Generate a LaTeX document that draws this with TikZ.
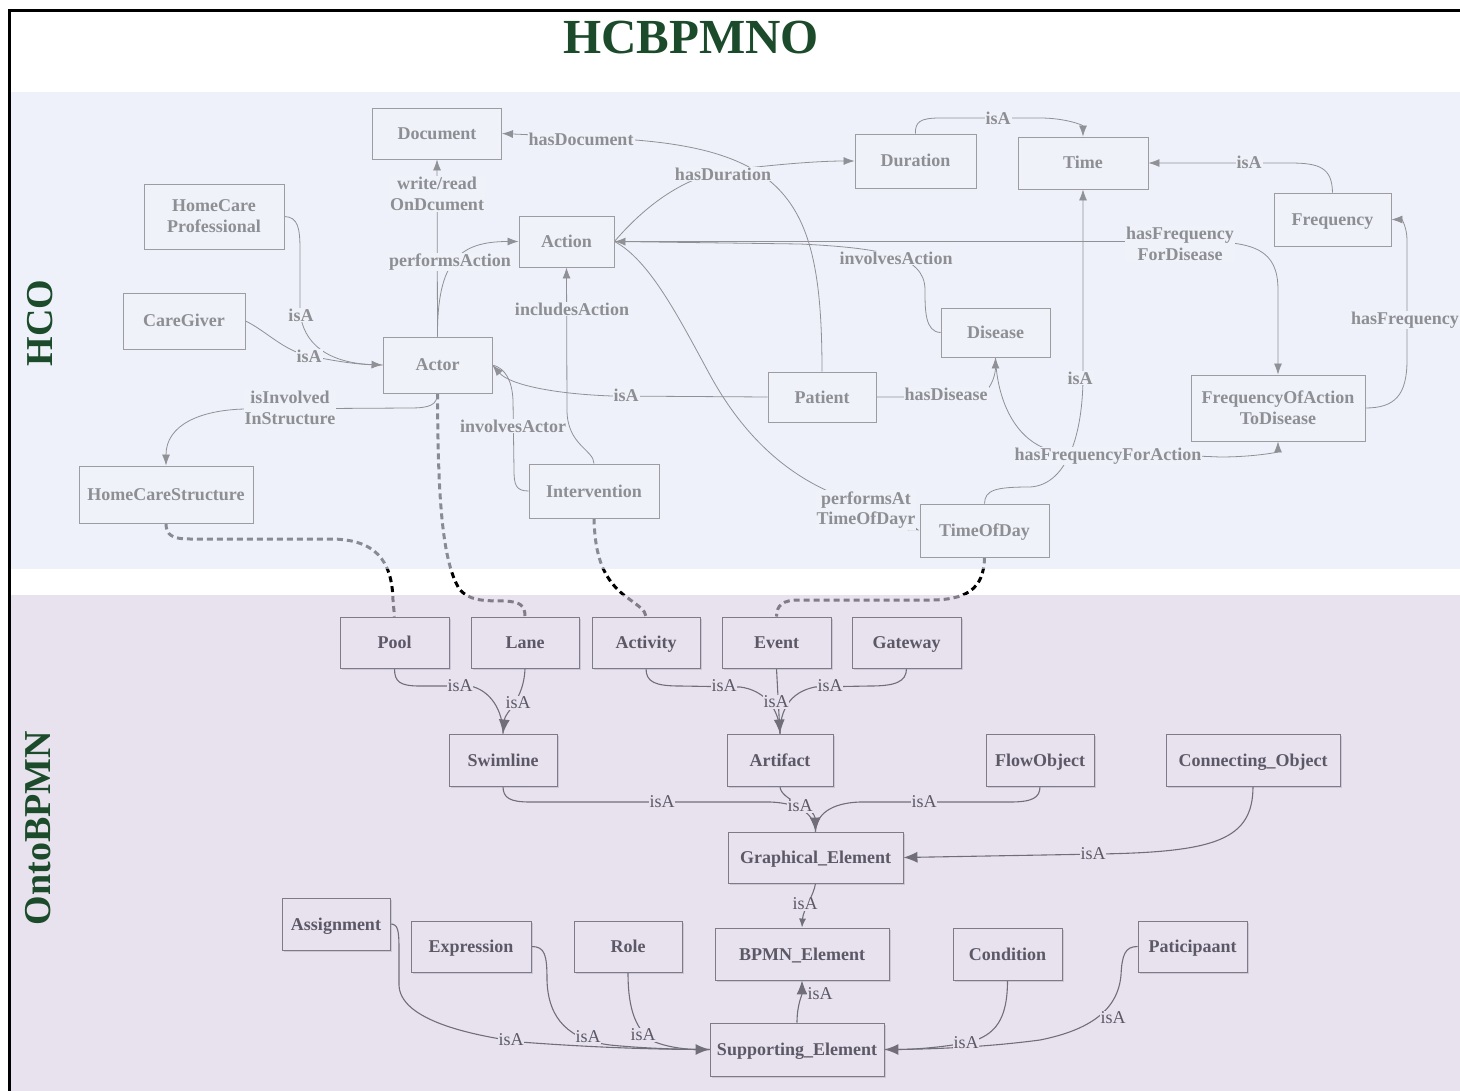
\documentclass[tikz,border=0pt]{standalone}
\usepackage{fontspec}
\setmainfont{Liberation Serif}
\usetikzlibrary{arrows.meta,shadows}
\definecolor{hcoband}{HTML}{E4E9F5}
\definecolor{hcovis}{HTML}{EFF2F9}
\definecolor{bpmband}{HTML}{D7CFE3}
\definecolor{bpmvis}{HTML}{E7E2EE}
\definecolor{hcotext}{HTML}{8E8F94}
\definecolor{hcoline}{HTML}{909196}
\definecolor{hcobox}{HTML}{9C9CA1}
\definecolor{bptext}{HTML}{5C5866}
\definecolor{bpline}{HTML}{716E7A}
\definecolor{bpbox}{HTML}{7E7A87}
\definecolor{titlegreen}{HTML}{1B4B2A}
\pgfdeclarelayer{dashl}\pgfdeclarelayer{bandl}\pgfdeclarelayer{edgel}
\pgfsetlayers{dashl,bandl,edgel,main}
\tikzset{
  hbox/.style={draw=hcobox, line width=0.9pt, fill=hcovis, text=hcotext, inner sep=0pt, align=center,
    font=\bfseries\fontsize{18}{21}\selectfont},
  bbox/.style={draw=bpbox, line width=0.9pt, fill=bpmvis, text=bptext, inner sep=0pt, align=center,
    font=\bfseries\fontsize{18}{21}\selectfont,
    drop shadow={shadow xshift=1.5pt, shadow yshift=-1.5pt, opacity=0.25, fill=bpbox}},
  one/.style={text height=13pt, text depth=1pt},
  hlbl/.style={fill=hcovis, text=hcotext, inner sep=1pt, align=center, font=\bfseries\fontsize{18}{20.5}\selectfont},
  blbl/.style={fill=bpmvis, text=bptext, inner sep=0.5pt, font=\fontsize{18}{20}\selectfont},
  hedge/.style={draw=hcoline, line width=0.8pt},
  harr/.style={hedge, -{Latex[length=11pt,width=8pt]}},
  bedge/.style={draw=bpline, line width=1.1pt},
  barr/.style={bedge, -{Latex[length=14pt,width=11pt]}},
  bsarr/.style={bedge, -{Latex[length=9pt,width=7pt]}},
  dashc/.style={draw=black, line width=3pt, dash pattern=on 6pt off 4pt},
  sz/.style n args={2}{minimum width=#1pt, minimum height=#2pt}
}
\begin{document}
\begin{tikzpicture}[x=1pt,y=-1pt]
\useasboundingbox (0,0) rectangle (1460,1091);
\begin{pgfonlayer}{dashl}
\fill[white] (0,0) rectangle (1460,1091);
\end{pgfonlayer}
\begin{pgfonlayer}{bandl}
\fill[hcoband, opacity=0.6] (11,92) rectangle (1460,569);
\fill[bpmband, opacity=0.6] (11,595) rectangle (1460,1091);
\end{pgfonlayer}

% frame and titles
\draw[line width=3pt] (9.5,1091) -- (9.5,10.5) -- (1460,10.5);
\node[text=titlegreen, font=\bfseries\fontsize{49}{51}\selectfont] (title) at (691,38) {HCBPMNO};
\node[rotate=90, text=titlegreen, font=\bfseries\fontsize{38}{40}\selectfont] (hco) at (40,323) {HCO};
\node[rotate=90, text=titlegreen, font=\bfseries\fontsize{38}{40}\selectfont] (onto) at (38,828) {OntoBPMN};

% HCO nodes
\node[hbox, one, sz={129}{51}] (Document) at (437,133.5) {Document};
\node[hbox, sz={140}{65}] (HCP) at (214,216.5) {HomeCare\\Professional};
\node[hbox, one, sz={122}{56}] (CareGiver) at (184,321) {CareGiver};
\node[hbox, one, sz={109}{56}] (Actor) at (437.5,365) {Actor};
\node[hbox, one, sz={174}{57}] (HCS) at (166,494.5) {HomeCareStructure};
\node[hbox, one, sz={95}{51}] (Action) at (566.5,241.5) {Action};
\node[hbox, one, sz={121}{54}] (Duration) at (915.5,161) {Duration};
\node[hbox, one, sz={130}{52}] (Time) at (1083,163) {Time};
\node[hbox, one, sz={117}{53}] (Frequency) at (1332.5,219.5) {Frequency};
\node[hbox, one, sz={109}{49}] (Disease) at (995.5,332.5) {Disease};
\node[hbox, sz={174}{66}] (FOATD) at (1278,408) {FrequencyOfAction\\ToDisease};
\node[hbox, one, sz={108}{50}] (Patient) at (822,397) {Patient};
\node[hbox, one, sz={130}{54}] (Intervention) at (594,491) {Intervention};
\node[hbox, one, sz={129}{53}] (TimeOfDay) at (984.5,530.5) {TimeOfDay};

% OntoBPMN nodes
\node[bbox, one, sz={109}{51}] (Pool) at (394.5,642.5) {Pool};
\node[bbox, one, sz={108}{51}] (Lane) at (525,642.5) {Lane};
\node[bbox, one, sz={108}{51}] (Activity) at (646,642.5) {Activity};
\node[bbox, one, sz={109}{51}] (Event) at (776.5,642.5) {Event};
\node[bbox, one, sz={109}{51}] (Gateway) at (906.5,642.5) {Gateway};
\node[bbox, one, sz={108}{52}] (Swimline) at (503,760) {Swimline};
\node[bbox, one, sz={106}{52}] (Artifact) at (780,760) {Artifact};
\node[bbox, one, sz={108}{52}] (FlowObject) at (1040,760) {FlowObject};
\node[bbox, one, sz={174}{52}] (ConnObj) at (1253,760) {Connecting\_Object};
\node[bbox, one, sz={175}{51}] (GE) at (815.5,857.5) {Graphical\_Element};
\node[bbox, one, sz={108}{52}] (Assignment) at (336,924) {Assignment};
\node[bbox, one, sz={120}{51}] (Expression) at (471,946.5) {Expression};
\node[bbox, one, sz={108}{51}] (Role) at (628,946.5) {Role};
\node[bbox, one, sz={174}{52}] (BPMN) at (802,954) {BPMN\_Element};
\node[bbox, one, sz={109}{52}] (Condition) at (1007.5,954) {Condition};
\node[bbox, one, sz={109}{51}] (Pati) at (1192.5,946.5) {Paticipaant};
\node[bbox, one, sz={174}{53}] (SE) at (797,1049.5) {Supporting\_Element};

% dashed mapping connectors (under the translucent bands)
\begin{pgfonlayer}{dashl}
\draw[dashc] (HCS.south) .. controls (166,535) and (172,539) .. (190,539) -- (330,539) .. controls (375,539) and (392,560) .. (393,600) -- (Pool.north);
\draw[dashc] (Actor.south) .. controls (438,480) and (440,560) .. (460,590) .. controls (470,600) and (480,601) .. (505,601) .. controls (520,602) and (525,605) .. (Lane.north);
\draw[dashc] (Intervention.south) .. controls (595,560) and (605,580) .. (625,596) .. controls (640,607) and (645,610) .. (Activity.north);
\draw[dashc] (TimeOfDay.south) .. controls (984,590) and (965,600) .. (930,600) -- (800,600) .. controls (782,600) and (777,605) .. (Event.north);
\end{pgfonlayer}

% HCO connectors
\begin{pgfonlayer}{edgel}
\draw[harr] (Actor.north) -- (Document.south);
\draw[harr] (Actor.north) .. controls (437,260) and (460,241.5) .. (Action.west);
\draw[harr] (HCP.east) .. controls (298,217) and (300,228) .. (300,250) -- (300,310) .. controls (302,345) and (330,363) .. (Actor.west);
\draw[hedge] (CareGiver.east) .. controls (265,330) and (285,352) .. (310,356) .. controls (340,362) and (360,365) .. (Actor.west);
\draw[harr] (Actor.south) .. controls (437,405) and (430,408) .. (410,408) -- (245,409) .. controls (200,410) and (166,425) .. (HCS.north);
\draw[harr] (Patient.west) -- (612,396) .. controls (555,394) and (510,385) .. (Actor.east);
\draw[hedge] (Intervention.west) .. controls (516,491) and (514,485) .. (514,470) -- (513,400) .. controls (512,380) and (505,368) .. (Actor.east);
\draw[harr] (Intervention.north) .. controls (594,450) and (567,445) .. (567,410) -- (Action.south);
\draw[harr] (Patient.north) .. controls (822,200) and (790,145) .. (600,138) -- (Document.east);
\draw[harr] (Action.east) .. controls (650,200) and (690,175) .. (730,170) .. controls (780,164) and (820,161) .. (Duration.west);
\draw[harr] (Disease.west) .. controls (925,332) and (925,310) .. (925,290) .. controls (925,255) and (880,248) .. (800,244) -- (Action.east);
\draw[harr] (Action.east) -- (1200,241.5) .. controls (1255,241.5) and (1278,250) .. (1278,290) -- (FOATD.north);
\draw[harr] (Action.east) .. controls (650,260) and (680,320) .. (710,375) .. controls (740,430) and (780,470) .. (830,492) .. controls (880,515) and (905,525) .. (TimeOfDay.west);
\draw[harr] (Patient.east) -- (975,397) .. controls (990,395) and (995.5,375) .. (Disease.south);
\draw[harr] (Disease.south) .. controls (997,400) and (1015,440) .. (1050,450) -- (1220,457) .. controls (1255,457) and (1278,452) .. (FOATD.south);
\draw[harr] (TimeOfDay.north) .. controls (985,490) and (995,487) .. (1030,487) .. controls (1065,485) and (1082,440) .. (1083,380) -- (Time.south);
\draw[harr] (Duration.north) .. controls (915,122) and (920,118) .. (940,118) -- (1040,118) .. controls (1065,118) and (1083,125) .. (Time.north);
\draw[harr] (Frequency.north) .. controls (1332,168) and (1320,163) .. (1290,163) -- (Time.east);
\draw[harr] (FOATD.east) .. controls (1395,408) and (1407,395) .. (1407,360) -- (1407,240) .. controls (1407,228) and (1402,219.5) .. (Frequency.east);

% OntoBPMN connectors
\draw[bedge] (Pool.south) .. controls (394.5,682) and (400,686) .. (420,686) -- (470,686) .. controls (490,690) and (503,710) .. (Swimline.north);
\draw[barr] (Lane.south) .. controls (524,700) and (505,712) .. (Swimline.north);
\draw[bedge] (Activity.south) .. controls (646,682) and (655,686) .. (680,686) -- (740,687) .. controls (765,690) and (780,710) .. (Artifact.north);
\draw[barr] (Event.south) -- (Artifact.north);
\draw[bedge] (Gateway.south) .. controls (906.5,682) and (895,686) .. (870,686) -- (815,687) .. controls (790,692) and (780,710) .. (Artifact.north);
\draw[bedge] (Swimline.south) .. controls (503,798) and (510,802) .. (530,802) -- (770,802) .. controls (800,803) and (815,815) .. (GE.north);
\draw[barr] (Artifact.south) .. controls (780,800) and (815,808) .. (GE.north);
\draw[bedge] (FlowObject.south) .. controls (1040,798) and (1032,802) .. (1010,802) -- (860,802) .. controls (830,803) and (816,815) .. (GE.north);
\draw[barr] (ConnObj.south) .. controls (1253,840) and (1215,852) .. (1100,854) -- (GE.east);
\draw[bsarr] (GE.south) .. controls (814,895) and (803,910) .. (BPMN.north);
\draw[barr] (SE.north) .. controls (797,1005) and (802,995) .. (BPMN.south);
\draw[bedge] (Assignment.east) .. controls (398,924) and (399,930) .. (399,950) -- (399,985) .. controls (400,1020) and (470,1035) .. (520,1042) .. controls (600,1048) and (660,1049.5) .. (SE.west);
\draw[bedge] (Expression.east) .. controls (545,946.5) and (547,955) .. (547,980) .. controls (548,1020) and (570,1040) .. (610,1045) .. controls (650,1049) and (690,1049.5) .. (SE.west);
\draw[barr] (Role.south) .. controls (628,1000) and (632,1030) .. (655,1042) .. controls (670,1048) and (690,1049.5) .. (SE.west);
\draw[barr] (Condition.south) .. controls (1007.5,1020) and (995,1035) .. (970,1042) .. controls (940,1048) and (910,1049.5) .. (SE.east);
\draw[bedge] (Pati.west) .. controls (1125,946.5) and (1122,955) .. (1121,975) .. controls (1118,1010) and (1090,1030) .. (1040,1040) .. controls (980,1048) and (920,1049.5) .. (SE.east);
\end{pgfonlayer}

% HCO labels
\node[hlbl] (lwr) at (437,194) {write/read\\OnDcument};
\node[hlbl] (lpa) at (450,262) {performsAction};
\node[hlbl] (li1) at (301,315) {isA};
\node[hlbl] (li2) at (309,356) {isA};
\node[hlbl] (lis) at (290,408) {isInvolved\\InStructure};
\node[hlbl] (li3) at (626,395) {isA};
\node[hlbl] (lia) at (513,426) {involvesActor};
\node[hlbl] (lin) at (572,309) {includesAction};
\node[hlbl] (lhd) at (581,139) {hasDocument};
\node[hlbl] (lhu) at (723,174) {hasDuration};
\node[hlbl] (lva) at (896,258) {involvesAction};
\node[hlbl] (lfd) at (1180,244) {hasFrequency\\ForDisease};
\node[hlbl] (lpt) at (866,510) {performsAt\\TimeOfDayr};
\node[hlbl] (lds) at (946,394) {hasDisease};
\node[hlbl] (lfa) at (1108,456) {hasFrequencyForAction};
\node[hlbl] (li4) at (1080,378) {isA};
\node[hlbl] (li5) at (998,118) {isA};
\node[hlbl] (li6) at (1249,162) {isA};
\node[hlbl] (lhf) at (1405,320) {hasFrequency};

% OntoBPMN labels
\node[blbl] (b1) at (460,686) {isA};
\node[blbl] (b2) at (518,703) {isA};
\node[blbl] (b3) at (724,686) {isA};
\node[blbl] (b4) at (776,702) {isA};
\node[blbl] (b5) at (830,686) {isA};
\node[blbl] (b6) at (662,802) {isA};
\node[blbl] (b7) at (800,806) {isA};
\node[blbl] (b8) at (924,802) {isA};
\node[blbl] (b9) at (1093,854) {isA};
\node[blbl] (b10) at (805,904) {isA};
\node[blbl] (b11) at (820,994) {isA};
\node[blbl] (b12) at (511,1040) {isA};
\node[blbl] (b13) at (588,1037) {isA};
\node[blbl] (b14) at (643,1035) {isA};
\node[blbl] (b15) at (966,1043) {isA};
\node[blbl] (b16) at (1113,1018) {isA};
\end{tikzpicture}
\end{document}
